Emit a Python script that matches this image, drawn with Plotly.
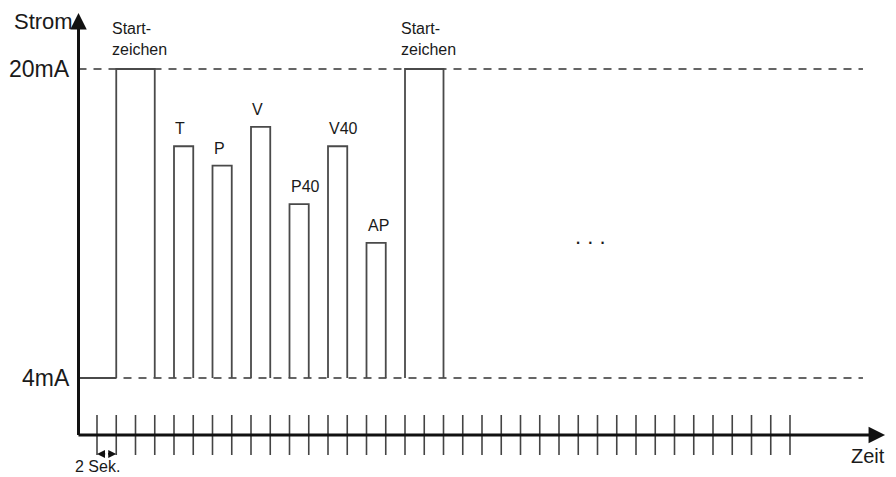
import plotly.graph_objects as go

# ---- data ----
pulse_start = [1, 4, 6, 8, 10, 12, 14, 16]
pulse_end = [3, 5, 7, 9, 11, 13, 15, 18]
pulse_level = [20, 16, 15, 17, 13, 16, 11, 20]
pulse_label = ["Start-<br>zeichen", "T", "P", "V", "P40", "V40", "AP", "Start-<br>zeichen"]
base_level = 4
high_level = 20
level_labels = ["20mA", "4mA"]
n_ticks = 37
tick_unit_label = "2 Sek."

# ---- geometry (page is offset by the 8px body margin) ----
OFF = 8
W, H = 896 - OFF, 477 - OFF
PX_T, PX_MA = 19.25, 19.3125
XMIN, XMAX = (OFF - 97) / PX_T, (896 - 97) / PX_T
YMIN, YMAX = 4 - (477 - 378) / PX_MA, 4 + (378 - OFF) / PX_MA
AX_X = -0.961
AX_Y = 1.0485
Y_TIP = 22.9
X_TIP = 40.94
DASH_END = 39.79
TICK_LO, TICK_HI = 0.013, 2.084

FONT = "Liberation Sans, Arial, sans-serif"
TXT = "#1a1a1a"

fig = go.Figure()

# dashed level lines
for lvl in [high_level, base_level]:
    fig.add_trace(go.Scatter(x=[AX_X, DASH_END], y=[lvl, lvl], mode="lines",
                             line=dict(color="#333333", width=1.6, dash="8px,7px"),
                             hoverinfo="skip", showlegend=False))

# signal: baseline from axis to first pulse, then open rectangles
xs, ys = [AX_X, pulse_start[0], None], [base_level, base_level, None]
for s, e, l in zip(pulse_start, pulse_end, pulse_level):
    xs += [s, s, e, e, None]
    ys += [base_level, l, l, base_level, None]
fig.add_trace(go.Scatter(x=xs, y=ys, mode="lines",
                         line=dict(color="#4a4a4a", width=1.8),
                         hoverinfo="skip", showlegend=False))

# time ticks
tx, ty = [], []
for i in range(n_ticks):
    tx += [i, i, None]
    ty += [TICK_LO, TICK_HI, None]
fig.add_trace(go.Scatter(x=tx, y=ty, mode="lines",
                         line=dict(color="#444444", width=1.6),
                         hoverinfo="skip", showlegend=False))

ann = []
# axes with arrowheads
ann.append(dict(x=AX_X, y=Y_TIP, ax=AX_X, ay=AX_Y - 0.08, xref="x", yref="y", axref="x", ayref="y",
                text="", showarrow=True, arrowhead=2, arrowsize=1.1, arrowwidth=3, arrowcolor="#111111"))
ann.append(dict(x=X_TIP, y=AX_Y, ax=AX_X - 0.08, ay=AX_Y, xref="x", yref="y", axref="x", ayref="y",
                text="", showarrow=True, arrowhead=2, arrowsize=1.1, arrowwidth=3, arrowcolor="#111111"))
# 2 Sek double arrow
ann.append(dict(x=0, y=0.07, ax=0.5, ay=0.07, xref="x", yref="y", axref="x", ayref="y",
                text="", showarrow=True, arrowhead=2, arrowsize=1, arrowwidth=1.6, arrowcolor="#111111"))
ann.append(dict(x=1, y=0.07, ax=0.5, ay=0.07, xref="x", yref="y", axref="x", ayref="y",
                text="", showarrow=True, arrowhead=2, arrowsize=1, arrowwidth=1.6, arrowcolor="#111111"))

# axis titles
ann.append(dict(x=AX_X, y=Y_TIP, xref="x", yref="y", text="Strom", showarrow=False,
                xanchor="right", yanchor="middle", xshift=-4, yshift=-9,
                font=dict(family=FONT, size=22, color=TXT)))
ann.append(dict(x=X_TIP, y=AX_Y, xref="x", yref="y", text="Zeit", showarrow=False,
                xanchor="right", yanchor="top", xshift=2, yshift=-8,
                font=dict(family=FONT, size=20, color=TXT)))
# level labels
for lvl, lab in zip([high_level, base_level], level_labels):
    ann.append(dict(x=AX_X, y=lvl, xref="x", yref="y", text=lab, showarrow=False,
                    xanchor="right", yanchor="middle", xshift=-7,
                    font=dict(family=FONT, size=23, color=TXT)))
# unit label
ann.append(dict(x=0.5, y=0.07, xref="x", yref="y", text=tick_unit_label, showarrow=False,
                xanchor="center", yanchor="top", xshift=-9, yshift=-2,
                font=dict(family=FONT, size=16, color=TXT)))
# pulse labels
for s, l, lab in zip(pulse_start, pulse_level, pulse_label):
    ann.append(dict(x=s, y=l, xref="x", yref="y", text=lab, showarrow=False,
                    xanchor="left", yanchor="bottom", xshift=(-6 if "<br>" in lab else -1),
                    yshift=(9 if "<br>" in lab else 7), align="left",
                    font=dict(family=FONT, size=16, color=TXT)))
# continuation dots
ann.append(dict(x=(590 - 97) / PX_T, y=11, xref="x", yref="y", text=". . .", showarrow=False,
                xanchor="center", yanchor="middle", yshift=6,
                font=dict(family=FONT, size=22, color=TXT)))

fig.update_layout(
    width=W, height=H, autosize=False,
    margin=dict(l=0, r=0, t=0, b=0),
    paper_bgcolor="white", plot_bgcolor="white",
    xaxis=dict(range=[XMIN, XMAX], visible=False, fixedrange=True),
    yaxis=dict(range=[YMIN, YMAX], visible=False, fixedrange=True),
    annotations=ann, showlegend=False,
)

fig.write_html("out.html")
